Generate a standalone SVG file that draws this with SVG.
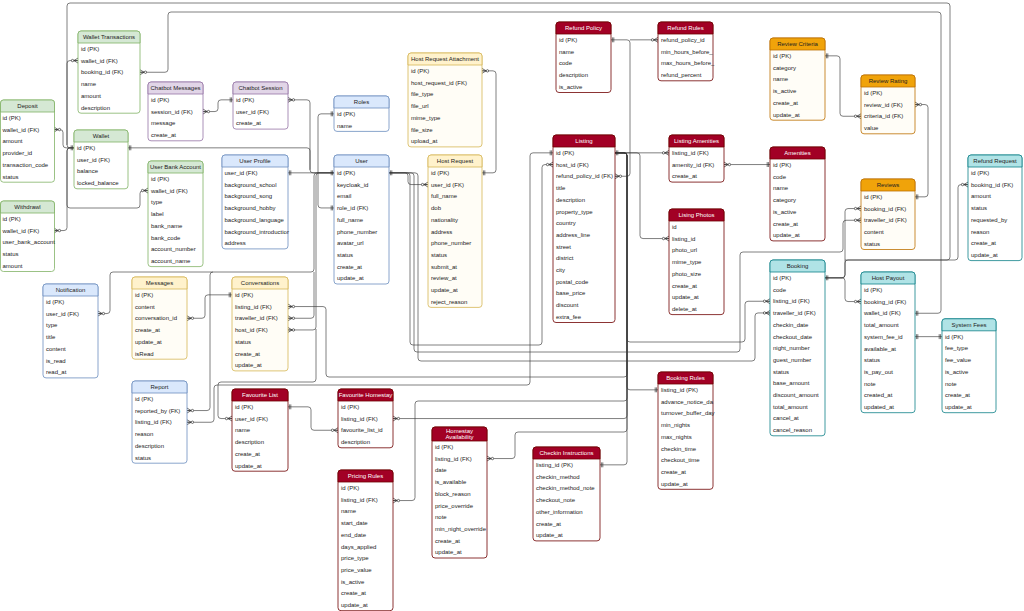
<svg xmlns="http://www.w3.org/2000/svg" width="1024" height="611" viewBox="0 0 1024 611">
<defs>
<style>
text{font-family:"Liberation Sans",Arial,sans-serif;font-size:6px;fill:#222}
.h{text-anchor:middle}
.bd{fill:#fff;stroke-width:0.8}
.hd{stroke-width:0.8}
.green .bd,.green .hd{stroke:#82b366}.green .hd{fill:#d5e8d4}
.purple .bd,.purple .hd{stroke:#9673a6}.purple .hd{fill:#e1d5e7}
.blue .bd,.blue .hd{stroke:#6c8ebf}.blue .hd{fill:#dae8fc}
.yellow .bd,.yellow .hd{stroke:#d6b656}.yellow .hd{fill:#fff2cc}.yellow .bd{fill:#fffdf6}
.red .bd,.red .hd{stroke:#6f0000}.red .hd{fill:#a20025}.red .h{fill:#fff}
.orange .bd,.orange .hd{stroke:#bd7000}.orange .hd{fill:#f0a30a}.orange .bd{fill:#fffdf7}
.teal .bd,.teal .hd{stroke:#0e8088}.teal .hd{fill:#b0e3e6}
.c path{fill:none;stroke:#3a3a3a;stroke-width:0.65}
</style>
<marker id="one" viewBox="0 0 10 10" refX="10" refY="5" markerWidth="7" markerHeight="7" markerUnits="userSpaceOnUse" orient="auto-start-reverse"><path d="M6,1.5V8.5M8,1.5V8.5" fill="none" stroke="#333" stroke-width="1"/></marker>
<marker id="many" viewBox="0 0 10 10" refX="10" refY="5" markerWidth="7" markerHeight="7" markerUnits="userSpaceOnUse" orient="auto-start-reverse"><path d="M4,5L10,1.5M4,5L10,8.5M4,5H10" fill="none" stroke="#333" stroke-width="1"/><circle cx="2.2" cy="5" r="1.7" fill="#fff" stroke="#333" stroke-width="1"/></marker>
</defs>
<rect width="1024" height="611" fill="#fff"/>

<g id="connectors" class="c">
<path d="M78,60.55H70Q67,60.55 67,63.55V144.85Q67,147.85 70,147.85H74" marker-start="url(#many)" marker-end="url(#one)"/>
<path d="M54,129.55H60Q63,129.55 63,132.55V144.85Q63,147.85 66,147.85H74" marker-start="url(#many)"/>
<path d="M54,230.55H64Q67,230.55 67,227.55V150.85Q67,147.85 70,147.85H74" marker-start="url(#many)"/>
<path d="M148,190.55H143Q140,190.55 140,193.55V205Q140,208 137,208H70Q67,208 67,205V150.85Q67,147.85 70,147.85H74" marker-start="url(#many)"/>
<path d="M67,145V6Q67,3 70,3H947Q950,3 950,6V257Q950,260 947,260H845"/>
<path d="M140,72.25H165Q168,72.25 168,69.25V15Q168,12 171,12H938Q941,12 941,15V310.25Q941,313.25 938,313.25H915" marker-start="url(#many)" marker-end="url(#one)"/>
<path d="M968,184.55H961Q958,184.55 958,187.55V257Q958,260 955,260H848Q845,260 845,263V274.85Q845,277.85 842,277.85H825" marker-start="url(#many)"/>
<path d="M861,208.55H848Q845,208.55 845,211.55V274.85Q845,277.85 842,277.85H825" marker-start="url(#many)" marker-end="url(#one)"/>
<path d="M861,301.55H848Q845,301.55 845,298.55V280.85Q845,277.85 842,277.85H825" marker-start="url(#many)"/>
<path d="M861,220.25H846Q843,220.25 843,223.25V249Q843,252 840,252H743Q740,252 740,255V349Q740,352 737,352H417Q414,352 414,349V175.85Q414,172.85 411,172.85H389" marker-start="url(#many)"/>
<path d="M770,312.95H758Q755,312.95 755,315.95V358Q755,361 752,361H421Q418,361 418,358V175.85Q418,172.85 415,172.85H389" marker-start="url(#many)"/>
<path d="M553,164.55H545Q542,164.55 542,167.55V342Q542,345 539,345H413Q410,345 410,342V175.85Q410,172.85 407,172.85H389" marker-start="url(#many)"/>
<path d="M428,184.55H411Q408,184.55 408,181.55V175.85Q408,172.85 405,172.85H389" marker-start="url(#many)" marker-end="url(#one)"/>
<path d="M482,70.85H493Q496,70.85 496,73.85V169.85Q496,172.85 493,172.85H482" marker-start="url(#many)" marker-end="url(#one)"/>
<path d="M770,301.25H748Q745,301.25 745,304.25V339Q745,342 742,342H630Q627,342 627,339V155.85Q627,152.85 624,152.85H615" marker-start="url(#many)"/>
<path d="M288,306.55H323Q326,306.55 326,309.55V374Q326,377 329,377H624Q627,377 627,374V155.85Q627,152.85 624,152.85H615" marker-start="url(#many)"/>
<path d="M393,500.55H412Q415,500.55 415,497.55V404Q415,401 418,401H624Q627,401 627,398V155.85Q627,152.85 624,152.85H615" marker-start="url(#many)"/>
<path d="M393,418.55H624Q627,418.55 627,415.55V155.85Q627,152.85 624,152.85H615" marker-start="url(#many)"/>
<path d="M487,458.55H512Q515,458.55 515,455.55V435Q515,432 518,432H624Q627,432 627,429V155.85Q627,152.85 624,152.85H615" marker-start="url(#many)"/>
<path d="M600,464.85H624Q627,464.85 627,461.85V155.85Q627,152.85 624,152.85H615" marker-start="url(#one)"/>
<path d="M658,389.85H630Q627,389.85 627,386.85V155.85Q627,152.85 624,152.85H615" marker-start="url(#one)"/>
<path d="M669,238.55H643Q640,238.55 640,235.55V155.85Q640,152.85 637,152.85H615" marker-start="url(#many)"/>
<path d="M669,152.85H615" marker-start="url(#many)" marker-end="url(#one)"/>
<path d="M724,164.55H770" marker-start="url(#many)" marker-end="url(#one)"/>
<path d="M615,176.25H627Q630,176.25 630,173.25V42.85Q630,39.85 627,39.85H611" marker-start="url(#many)" marker-end="url(#one)"/>
<path d="M658,39.85H630" marker-start="url(#many)"/>
<path d="M861,116.25H843Q840,116.25 840,113.25V58.85Q840,55.85 837,55.85H825" marker-start="url(#many)" marker-end="url(#one)"/>
<path d="M915,104.55H925Q928,104.55 928,107.55V193.85Q928,196.85 925,196.85H915" marker-start="url(#many)" marker-end="url(#one)"/>
<path d="M915,336.65H942" marker-start="url(#one)" marker-end="url(#one)"/>
<path d="M203,111.55H215Q218,111.55 218,108.55V102.85Q218,99.85 221,99.85H233" marker-start="url(#many)" marker-end="url(#one)"/>
<path d="M288,99.85H307Q310,99.85 310,102.85V169.85Q310,172.85 313,172.85H334" marker-start="url(#many)"/>
<path d="M128,147.85H307Q310,147.85 310,150.85V169.85" marker-start="url(#one)"/>
<path d="M288,172.85H334" marker-start="url(#one)" marker-end="url(#one)"/>
<path d="M334,207.95H321Q318,207.95 318,204.95V116.85Q318,113.85 321,113.85H334" marker-start="url(#one)" marker-end="url(#one)"/>
<path d="M98,313.55H107Q110,313.55 110,310.55V275Q110,272 113,272H311Q314,272 314,269V175.85Q314,172.85 317,172.85H334" marker-start="url(#many)"/>
<path d="M187,410.55H207Q210,410.55 210,407.55V275Q210,272 213,272" marker-start="url(#many)"/>
<path d="M288,318.25H311Q314,318.25 314,315.25V272" marker-start="url(#many)"/>
<path d="M288,329.95H313Q316,329.95 316,326.95V175.85Q316,172.85 319,172.85H334" marker-start="url(#many)"/>
<path d="M232,418.55H221Q218,418.55 218,415.55V385Q218,382 221,382H313Q316,382 316,379V329" marker-start="url(#many)"/>
<path d="M187,422.25H211Q214,422.25 214,419.25V388Q214,385 217,385H527Q530,385 530,382V155.85Q530,152.85 533,152.85H553" marker-start="url(#many)" marker-end="url(#one)"/>
<path d="M187,318.25H202Q205,318.25 205,315.25V297.85Q205,294.85 208,294.85H232" marker-start="url(#many)" marker-end="url(#one)"/>
<path d="M288,406.85H308Q311,406.85 311,409.85V427.25Q311,430.25 314,430.25H338" marker-start="url(#one)" marker-end="url(#many)"/>
</g>

<g id="wallet-transactions" class="green" transform="translate(78,31)"><rect class="bd" width="62" height="82.2" rx="3"/><path class="hd" d="M0,12V3Q0,0 3,0H59Q62,0 62,3V12Z"/><text class="h" x="31" y="8.2">Wallet Transactions</text><text x="3" y="20">id (PK)</text><text x="3" y="31.7">wallet_id (FK)</text><text x="3" y="43.4">booking_id (FK)</text><text x="3" y="55.1">name</text><text x="3" y="66.8">amount</text><text x="3" y="78.5">description</text></g>

<g id="chatbot-messages" class="purple" transform="translate(148,82)"><rect class="bd" width="55" height="58.8" rx="3"/><path class="hd" d="M0,12V3Q0,0 3,0H52Q55,0 55,3V12Z"/><text class="h" x="27.5" y="8.2">Chatbot Messages</text><text x="3" y="20">id (PK)</text><text x="3" y="31.7">session_id (FK)</text><text x="3" y="43.4">message</text><text x="3" y="55.1">create_at</text></g>

<g id="chatbot-session" class="purple" transform="translate(233,82)"><rect class="bd" width="55" height="47.1" rx="3"/><path class="hd" d="M0,12V3Q0,0 3,0H52Q55,0 55,3V12Z"/><text class="h" x="27.5" y="8.2">Chatbot Session</text><text x="3" y="20">id (PK)</text><text x="3" y="31.7">user_id (FK)</text><text x="3" y="43.4">create_at</text></g>

<g id="deposit" class="green" transform="translate(0.5,100)"><rect class="bd" width="54" height="82.2" rx="3"/><path class="hd" d="M0,12V3Q0,0 3,0H51Q54,0 54,3V12Z"/><text class="h" x="27" y="8.2">Deposit</text><text x="2" y="20">id (PK)</text><text x="2" y="31.7">wallet_id (FK)</text><text x="2" y="43.4">amount</text><text x="2" y="55.1">provider_id</text><text x="2" y="66.8">transaction_code</text><text x="2" y="78.5">status</text></g>

<g id="wallet" class="green" transform="translate(74,130)"><rect class="bd" width="54" height="58.8" rx="3"/><path class="hd" d="M0,12V3Q0,0 3,0H51Q54,0 54,3V12Z"/><text class="h" x="27" y="8.2">Wallet</text><text x="3" y="20">id (PK)</text><text x="3" y="31.7">user_id (FK)</text><text x="3" y="43.4">balance</text><text x="3" y="55.1">locked_balance</text></g>

<g id="user-bank-account" class="green" transform="translate(148,161)"><rect class="bd" width="55" height="105.6" rx="3"/><path class="hd" d="M0,12V3Q0,0 3,0H52Q55,0 55,3V12Z"/><text class="h" x="27.5" y="8.2">User Bank Account</text><text x="3" y="20">id (PK)</text><text x="3" y="31.7">wallet_id (FK)</text><text x="3" y="43.4">type</text><text x="3" y="55.1">label</text><text x="3" y="66.8">bank_name</text><text x="3" y="78.5">bank_code</text><text x="3" y="90.2">account_number</text><text x="3" y="101.9">account_name</text></g>

<g id="withdrawl" class="green" transform="translate(0.5,201)"><rect class="bd" width="54" height="70.5" rx="3"/><path class="hd" d="M0,12V3Q0,0 3,0H51Q54,0 54,3V12Z"/><text class="h" x="27" y="8.2">Withdrawl</text><text x="2" y="20">id (PK)</text><text x="2" y="31.7">wallet_id (FK)</text><text x="2" y="43.4">user_bank_account</text><text x="2" y="55.1">status</text><text x="2" y="66.8">amount</text></g>

<g id="user-profile" class="blue" transform="translate(222,155)"><rect class="bd" width="66" height="93.9" rx="3"/><path class="hd" d="M0,12V3Q0,0 3,0H63Q66,0 66,3V12Z"/><text class="h" x="33" y="8.2">User Profile</text><text x="2.5" y="20">user_id (FK)</text><text x="2.5" y="31.7">background_school</text><text x="2.5" y="43.4">background_song</text><text x="2.5" y="55.1">background_hobby</text><text x="2.5" y="66.8">background_language</text><text x="2.5" y="78.5">background_introductior</text><text x="2.5" y="90.2">address</text></g>

<g id="roles" class="blue" transform="translate(334,96)"><rect class="bd" width="55" height="35.4" rx="3"/><path class="hd" d="M0,12V3Q0,0 3,0H52Q55,0 55,3V12Z"/><text class="h" x="27.5" y="8.2">Roles</text><text x="3" y="20">id (PK)</text><text x="3" y="31.7">name</text></g>

<g id="user" class="blue" transform="translate(334,155)"><rect class="bd" width="55" height="129" rx="3"/><path class="hd" d="M0,12V3Q0,0 3,0H52Q55,0 55,3V12Z"/><text class="h" x="27.5" y="8.2">User</text><text x="3" y="20">id (PK)</text><text x="3" y="31.7">keycloak_id</text><text x="3" y="43.4">email</text><text x="3" y="55.1">role_id (FK)</text><text x="3" y="66.8">full_name</text><text x="3" y="78.5">phone_number</text><text x="3" y="90.2">avatar_url</text><text x="3" y="101.9">status</text><text x="3" y="113.6">create_at</text><text x="3" y="125.3">update_at</text></g>

<g id="host-request-attachment" class="yellow" transform="translate(408,53)"><rect class="bd" width="74" height="93.9" rx="3"/><path class="hd" d="M0,12V3Q0,0 3,0H71Q74,0 74,3V12Z"/><text class="h" x="37" y="8.2">Host Request Attachment</text><text x="3" y="20">id (PK)</text><text x="3" y="31.7">host_request_id (FK)</text><text x="3" y="43.4">file_type</text><text x="3" y="55.1">file_url</text><text x="3" y="66.8">mime_type</text><text x="3" y="78.5">file_size</text><text x="3" y="90.2">upload_at</text></g>

<g id="host-request" class="yellow" transform="translate(428,155)"><rect class="bd" width="54" height="152.4" rx="3"/><path class="hd" d="M0,12V3Q0,0 3,0H51Q54,0 54,3V12Z"/><text class="h" x="27" y="8.2">Host Request</text><text x="3" y="20">id (PK)</text><text x="3" y="31.7">user_id (FK)</text><text x="3" y="43.4">full_name</text><text x="3" y="55.1">dob</text><text x="3" y="66.8">nationality</text><text x="3" y="78.5">address</text><text x="3" y="90.2">phone_number</text><text x="3" y="101.9">status</text><text x="3" y="113.6">submit_at</text><text x="3" y="125.3">review_at</text><text x="3" y="137">update_at</text><text x="3" y="148.7">reject_reason</text></g>

<g id="refund-policy" class="red" transform="translate(556,22)"><rect class="bd" width="55" height="70.5" rx="3"/><path class="hd" d="M0,12V3Q0,0 3,0H52Q55,0 55,3V12Z"/><text class="h" x="27.5" y="8.2">Refund Policy</text><text x="3" y="20">id (PK)</text><text x="3" y="31.7">name</text><text x="3" y="43.4">code</text><text x="3" y="55.1">description</text><text x="3" y="66.8">is_active</text></g>

<g id="refund-rules" class="red" transform="translate(658,22)"><rect class="bd" width="55" height="58.8" rx="3"/><path class="hd" d="M0,12V3Q0,0 3,0H52Q55,0 55,3V12Z"/><text class="h" x="27.5" y="8.2">Refund Rules</text><text x="3" y="20">refund_policy_id</text><text x="3" y="31.7">min_hours_before_</text><text x="3" y="43.4">max_hours_before_</text><text x="3" y="55.1">refund_percent</text></g>

<g id="listing" class="red" transform="translate(553,135)"><rect class="bd" width="62" height="187.5" rx="3"/><path class="hd" d="M0,12V3Q0,0 3,0H59Q62,0 62,3V12Z"/><text class="h" x="31" y="8.2">Listing</text><text x="3" y="20">id (PK)</text><text x="3" y="31.7">host_id (FK)</text><text x="3" y="43.4">refund_policy_id (FK)</text><text x="3" y="55.1">title</text><text x="3" y="66.8">description</text><text x="3" y="78.5">property_type</text><text x="3" y="90.2">country</text><text x="3" y="101.9">address_line</text><text x="3" y="113.6">street</text><text x="3" y="125.3">district</text><text x="3" y="137">city</text><text x="3" y="148.7">postal_code</text><text x="3" y="160.4">base_price</text><text x="3" y="172.1">discount</text><text x="3" y="183.8">extra_fee</text></g>

<g id="listing-amenities" class="red" transform="translate(669,135)"><rect class="bd" width="55" height="47.1" rx="3"/><path class="hd" d="M0,12V3Q0,0 3,0H52Q55,0 55,3V12Z"/><text class="h" x="27.5" y="8.2">Listing Amenities</text><text x="3" y="20">listing_id (FK)</text><text x="3" y="31.7">amenity_id (FK)</text><text x="3" y="43.4">create_at</text></g>

<g id="listing-photos" class="red" transform="translate(669,209)"><rect class="bd" width="55" height="105.6" rx="3"/><path class="hd" d="M0,12V3Q0,0 3,0H52Q55,0 55,3V12Z"/><text class="h" x="27.5" y="8.2">Lising Photos</text><text x="3" y="20">id</text><text x="3" y="31.7">listing_id</text><text x="3" y="43.4">photo_url</text><text x="3" y="55.1">mime_type</text><text x="3" y="66.8">photo_size</text><text x="3" y="78.5">create_at</text><text x="3" y="90.2">update_at</text><text x="3" y="101.9">delete_at</text></g>

<g id="review-criteria" class="orange" transform="translate(770,38)"><rect class="bd" width="55" height="82.2" rx="3"/><path class="hd" d="M0,12V3Q0,0 3,0H52Q55,0 55,3V12Z"/><text class="h" x="27.5" y="8.2">Review Criteria</text><text x="3" y="20">id (PK)</text><text x="3" y="31.7">category</text><text x="3" y="43.4">name</text><text x="3" y="55.1">is_active</text><text x="3" y="66.8">create_at</text><text x="3" y="78.5">update_at</text></g>

<g id="review-rating" class="orange" transform="translate(861,75)"><rect class="bd" width="54" height="58.8" rx="3"/><path class="hd" d="M0,12V3Q0,0 3,0H51Q54,0 54,3V12Z"/><text class="h" x="27" y="8.2">Review Rating</text><text x="3" y="20">id (PK)</text><text x="3" y="31.7">review_id (FK)</text><text x="3" y="43.4">criteria_id (FK)</text><text x="3" y="55.1">value</text></g>

<g id="amenities" class="red" transform="translate(770,147)"><rect class="bd" width="55" height="93.9" rx="3"/><path class="hd" d="M0,12V3Q0,0 3,0H52Q55,0 55,3V12Z"/><text class="h" x="27.5" y="8.2">Amenities</text><text x="3" y="20">id (PK)</text><text x="3" y="31.7">code</text><text x="3" y="43.4">name</text><text x="3" y="55.1">category</text><text x="3" y="66.8">is_active</text><text x="3" y="78.5">create_at</text><text x="3" y="90.2">update_at</text></g>

<g id="reviews" class="orange" transform="translate(861,179)"><rect class="bd" width="54" height="70.5" rx="3"/><path class="hd" d="M0,12V3Q0,0 3,0H51Q54,0 54,3V12Z"/><text class="h" x="27" y="8.2">Reviews</text><text x="3" y="20">id (PK)</text><text x="3" y="31.7">booking_id (FK)</text><text x="3" y="43.4">traveller_id (FK)</text><text x="3" y="55.1">content</text><text x="3" y="66.8">status</text></g>

<g id="refund-request" class="teal" transform="translate(968,155)"><rect class="bd" width="54" height="105.6" rx="3"/><path class="hd" d="M0,12V3Q0,0 3,0H51Q54,0 54,3V12Z"/><text class="h" x="27" y="8.2">Refund Request</text><text x="3" y="20">id (PK)</text><text x="3" y="31.7">booking_id (FK)</text><text x="3" y="43.4">amount</text><text x="3" y="55.1">status</text><text x="3" y="66.8">requested_by</text><text x="3" y="78.5">reason</text><text x="3" y="90.2">create_at</text><text x="3" y="101.9">update_at</text></g>

<g id="booking" class="teal" transform="translate(770,260)"><rect class="bd" width="55" height="175.8" rx="3"/><path class="hd" d="M0,12V3Q0,0 3,0H52Q55,0 55,3V12Z"/><text class="h" x="27.5" y="8.2">Booking</text><text x="3" y="20">id (PK)</text><text x="3" y="31.7">code</text><text x="3" y="43.4">listing_id (FK)</text><text x="3" y="55.1">traveller_id (FK)</text><text x="3" y="66.8">checkin_date</text><text x="3" y="78.5">checkout_date</text><text x="3" y="90.2">night_number</text><text x="3" y="101.9">guest_number</text><text x="3" y="113.6">status</text><text x="3" y="125.3">base_amount</text><text x="3" y="137">discount_amount</text><text x="3" y="148.7">total_amount</text><text x="3" y="160.4">cancel_at</text><text x="3" y="172.1">cancel_reason</text></g>

<g id="host-payout" class="teal" transform="translate(861,272)"><rect class="bd" width="54" height="140.7" rx="3"/><path class="hd" d="M0,12V3Q0,0 3,0H51Q54,0 54,3V12Z"/><text class="h" x="27" y="8.2">Host Payout</text><text x="3" y="20">id (PK)</text><text x="3" y="31.7">booking_id (FK)</text><text x="3" y="43.4">wallet_id (FK)</text><text x="3" y="55.1">total_amount</text><text x="3" y="66.8">system_fee_id</text><text x="3" y="78.5">available_at</text><text x="3" y="90.2">status</text><text x="3" y="101.9">is_pay_out</text><text x="3" y="113.6">note</text><text x="3" y="125.3">created_at</text><text x="3" y="137">updated_at</text></g>

<g id="system-fees" class="teal" transform="translate(942,318.8)"><rect class="bd" width="54" height="93.9" rx="3"/><path class="hd" d="M0,12V3Q0,0 3,0H51Q54,0 54,3V12Z"/><text class="h" x="27" y="8.2">System Fees</text><text x="3" y="20">id (PK)</text><text x="3" y="31.7">fee_type</text><text x="3" y="43.4">fee_value</text><text x="3" y="55.1">is_active</text><text x="3" y="66.8">note</text><text x="3" y="78.5">create_at</text><text x="3" y="90.2">update_at</text></g>

<g id="notification" class="blue" transform="translate(43,284)"><rect class="bd" width="55" height="93.9" rx="3"/><path class="hd" d="M0,12V3Q0,0 3,0H52Q55,0 55,3V12Z"/><text class="h" x="27.5" y="8.2">Notification</text><text x="3" y="20">id (PK)</text><text x="3" y="31.7">user_id (FK)</text><text x="3" y="43.4">type</text><text x="3" y="55.1">title</text><text x="3" y="66.8">content</text><text x="3" y="78.5">is_read</text><text x="3" y="90.2">read_at</text></g>

<g id="messages" class="yellow" transform="translate(132,277)"><rect class="bd" width="55" height="82.2" rx="3"/><path class="hd" d="M0,12V3Q0,0 3,0H52Q55,0 55,3V12Z"/><text class="h" x="27.5" y="8.2">Messages</text><text x="3" y="20">id (PK)</text><text x="3" y="31.7">content</text><text x="3" y="43.4">conversation_id</text><text x="3" y="55.1">create_at</text><text x="3" y="66.8">update_at</text><text x="3" y="78.5">isRead</text></g>

<g id="conversations" class="yellow" transform="translate(232,277)"><rect class="bd" width="56" height="93.9" rx="3"/><path class="hd" d="M0,12V3Q0,0 3,0H53Q56,0 56,3V12Z"/><text class="h" x="28" y="8.2">Conversations</text><text x="3" y="20">id (PK)</text><text x="3" y="31.7">listing_id (FK)</text><text x="3" y="43.4">traveller_id (FK)</text><text x="3" y="55.1">host_id (FK)</text><text x="3" y="66.8">status</text><text x="3" y="78.5">create_at</text><text x="3" y="90.2">update_at</text></g>

<g id="report" class="blue" transform="translate(132,381)"><rect class="bd" width="55" height="82.2" rx="3"/><path class="hd" d="M0,12V3Q0,0 3,0H52Q55,0 55,3V12Z"/><text class="h" x="27.5" y="8.2">Report</text><text x="3" y="20">id (PK)</text><text x="3" y="31.7">reported_by (FK)</text><text x="3" y="43.4">listing_id (FK)</text><text x="3" y="55.1">reason</text><text x="3" y="66.8">description</text><text x="3" y="78.5">status</text></g>

<g id="favourite-list" class="red" transform="translate(232,389)"><rect class="bd" width="56" height="82.2" rx="3"/><path class="hd" d="M0,12V3Q0,0 3,0H53Q56,0 56,3V12Z"/><text class="h" x="28" y="8.2">Favourite List</text><text x="3" y="20">id (PK)</text><text x="3" y="31.7">user_id (FK)</text><text x="3" y="43.4">name</text><text x="3" y="55.1">description</text><text x="3" y="66.8">create_at</text><text x="3" y="78.5">update_at</text></g>

<g id="favourite-homestay" class="red" transform="translate(338,389)"><rect class="bd" width="55" height="58.8" rx="3"/><path class="hd" d="M0,12V3Q0,0 3,0H52Q55,0 55,3V12Z"/><text class="h" x="27.5" y="8.2">Favourite Homestay</text><text x="3" y="20">id (PK)</text><text x="3" y="31.7">listing_id (FK)</text><text x="3" y="43.4">favourite_list_id</text><text x="3" y="55.1">description</text></g>

<g id="homestay-availability" class="red" transform="translate(432,427)"><rect class="bd" width="55" height="131" rx="3"/><path class="hd" d="M0,14V3Q0,0 3,0H52Q55,0 55,3V14Z"/><text class="h" x="27.5" y="6">Homestay</text><text class="h" x="27.5" y="12">Availability</text><text x="3" y="22">id (PK)</text><text x="3" y="33.7">listing_id (FK)</text><text x="3" y="45.4">date</text><text x="3" y="57.1">is_available</text><text x="3" y="68.8">block_reason</text><text x="3" y="80.5">price_override</text><text x="3" y="92.2">note</text><text x="3" y="103.9">min_night_override</text><text x="3" y="115.6">create_at</text><text x="3" y="127.3">update_at</text></g>

<g id="pricing-rules" class="red" transform="translate(338,470)"><rect class="bd" width="55" height="140.7" rx="3"/><path class="hd" d="M0,12V3Q0,0 3,0H52Q55,0 55,3V12Z"/><text class="h" x="27.5" y="8.2">Pricing Rules</text><text x="3" y="20">id (PK)</text><text x="3" y="31.7">listing_id (FK)</text><text x="3" y="43.4">name</text><text x="3" y="55.1">start_date</text><text x="3" y="66.8">end_date</text><text x="3" y="78.5">days_applied</text><text x="3" y="90.2">price_type</text><text x="3" y="101.9">price_value</text><text x="3" y="113.6">is_active</text><text x="3" y="125.3">create_at</text><text x="3" y="137">update_at</text></g>

<g id="checkin-instructions" class="red" transform="translate(533,447)"><rect class="bd" width="67" height="93.9" rx="3"/><path class="hd" d="M0,12V3Q0,0 3,0H64Q67,0 67,3V12Z"/><text class="h" x="33.5" y="8.2">Checkin Instructions</text><text x="3" y="20">listing_id (PK)</text><text x="3" y="31.7">checkin_method</text><text x="3" y="43.4">checkin_method_note</text><text x="3" y="55.1">checkout_note</text><text x="3" y="66.8">other_information</text><text x="3" y="78.5">create_at</text><text x="3" y="90.2">update_at</text></g>

<g id="booking-rules" class="red" transform="translate(658,372)"><rect class="bd" width="55" height="117.3" rx="3"/><path class="hd" d="M0,12V3Q0,0 3,0H52Q55,0 55,3V12Z"/><text class="h" x="27.5" y="8.2">Booking Rules</text><text x="3" y="20">listing_id (PK)</text><text x="3" y="31.7">advance_notice_da</text><text x="3" y="43.4">turnover_buffer_day</text><text x="3" y="55.1">min_nights</text><text x="3" y="66.8">max_nights</text><text x="3" y="78.5">checkin_time</text><text x="3" y="90.2">checkout_time</text><text x="3" y="101.9">create_at</text><text x="3" y="113.6">update_at</text></g>
</svg>
